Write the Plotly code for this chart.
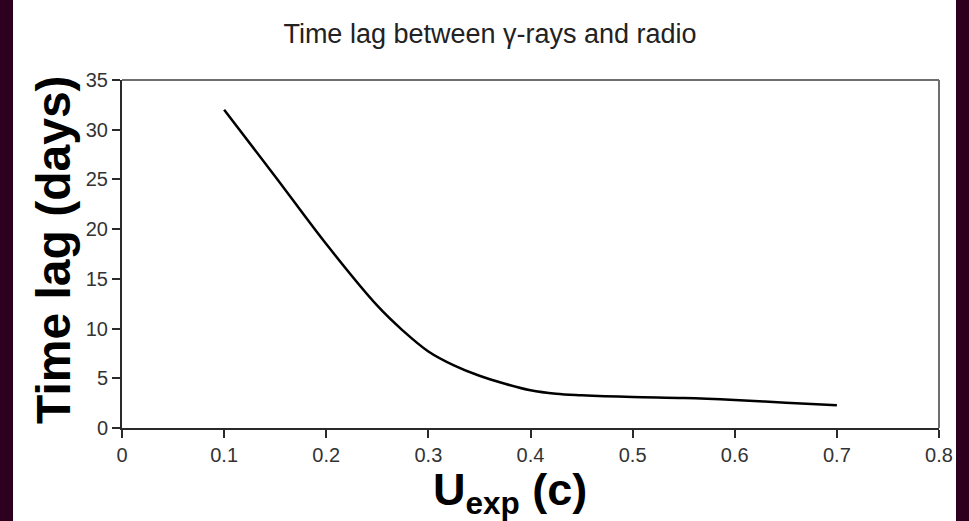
import plotly.graph_objects as go

# Data
u_exp = [0.10, 0.15, 0.20, 0.25, 0.275, 0.30, 0.325, 0.35, 0.375, 0.40, 0.425, 0.45, 0.50, 0.55, 0.60, 0.65, 0.70]
time_lag = [32.0, 25.3, 18.5, 12.3, 9.8, 7.7, 6.3, 5.25, 4.45, 3.8, 3.45, 3.3, 3.12, 3.02, 2.82, 2.55, 2.3]

x_ticks = [0, 0.1, 0.2, 0.3, 0.4, 0.5, 0.6, 0.7, 0.8]
y_ticks = [0, 5, 10, 15, 20, 25, 30, 35]

W, H = 969, 521
L, R, T, B = 122, 30, 80, 93
pw, ph = W - L - R, H - T - B


def px_to_paper_x(px):
    return (px - L) / pw


def px_to_paper_y(py):
    return (H - B - py) / ph


fig = go.Figure()
fig.add_trace(go.Scatter(
    x=u_exp, y=time_lag, mode="lines",
    line=dict(color="black", width=2.5, shape="spline", smoothing=1.0),
    showlegend=False, hoverinfo="skip",
))

font_family = "Liberation Sans, Arial, sans-serif"

fig.update_layout(
    width=W, height=H,
    margin=dict(l=L, r=R, t=T, b=B),
    paper_bgcolor="#2C001E",
    plot_bgcolor="white",
    font=dict(family=font_family, color="#333333"),
    title=dict(
        text="Time lag between γ-rays and radio",
        font=dict(size=27, color="#222222", family=font_family),
        x=490 / W, xanchor="center", xref="container",
        y=1 - 34 / H, yanchor="middle", yref="container",
    ),
    xaxis=dict(
        range=[0, 0.8], tickvals=x_ticks, ticktext=[("%g" % v) for v in x_ticks],
        showgrid=False, zeroline=False,
        showline=True, linecolor="#2a2a2a", linewidth=2,
        ticks="outside", ticklen=8, tickwidth=2, tickcolor="#2a2a2a",
        tickfont=dict(size=20, color="#333333"),
    ),
    yaxis=dict(
        range=[0, 35], tickvals=y_ticks,
        showgrid=False, zeroline=False,
        showline=True, linecolor="#2a2a2a", linewidth=2,
        ticks="outside", ticklen=8, tickwidth=2, tickcolor="#2a2a2a",
        tickfont=dict(size=20, color="#333333"),
    ),
    shapes=[
        dict(type="rect", xref="paper", yref="paper", layer="below",
             x0=px_to_paper_x(13), x1=px_to_paper_x(956),
             y0=px_to_paper_y(H + 5), y1=px_to_paper_y(-5),
             fillcolor="white", line=dict(width=0)),
        dict(type="line", xref="paper", yref="paper", x0=0, x1=1, y0=1, y1=1,
             line=dict(color="#6e6e6e", width=2)),
        dict(type="line", xref="paper", yref="paper", x0=1, x1=1, y0=0, y1=1,
             line=dict(color="#6e6e6e", width=2)),
    ],
    annotations=[
        dict(text="<b>Time lag (days)</b>", xref="paper", yref="paper",
             x=px_to_paper_x(53), y=px_to_paper_y(250),
             xanchor="center", yanchor="middle", textangle=-90, showarrow=False,
             font=dict(size=48, color="black", family=font_family)),
        dict(text="<b>U<sub>exp</sub> (c)</b>", xref="paper", yref="paper",
             x=px_to_paper_x(510), y=px_to_paper_y(492),
             xanchor="center", yanchor="middle", showarrow=False,
             font=dict(size=45, color="black", family=font_family)),
    ],
)

fig.write_html("out.html")
